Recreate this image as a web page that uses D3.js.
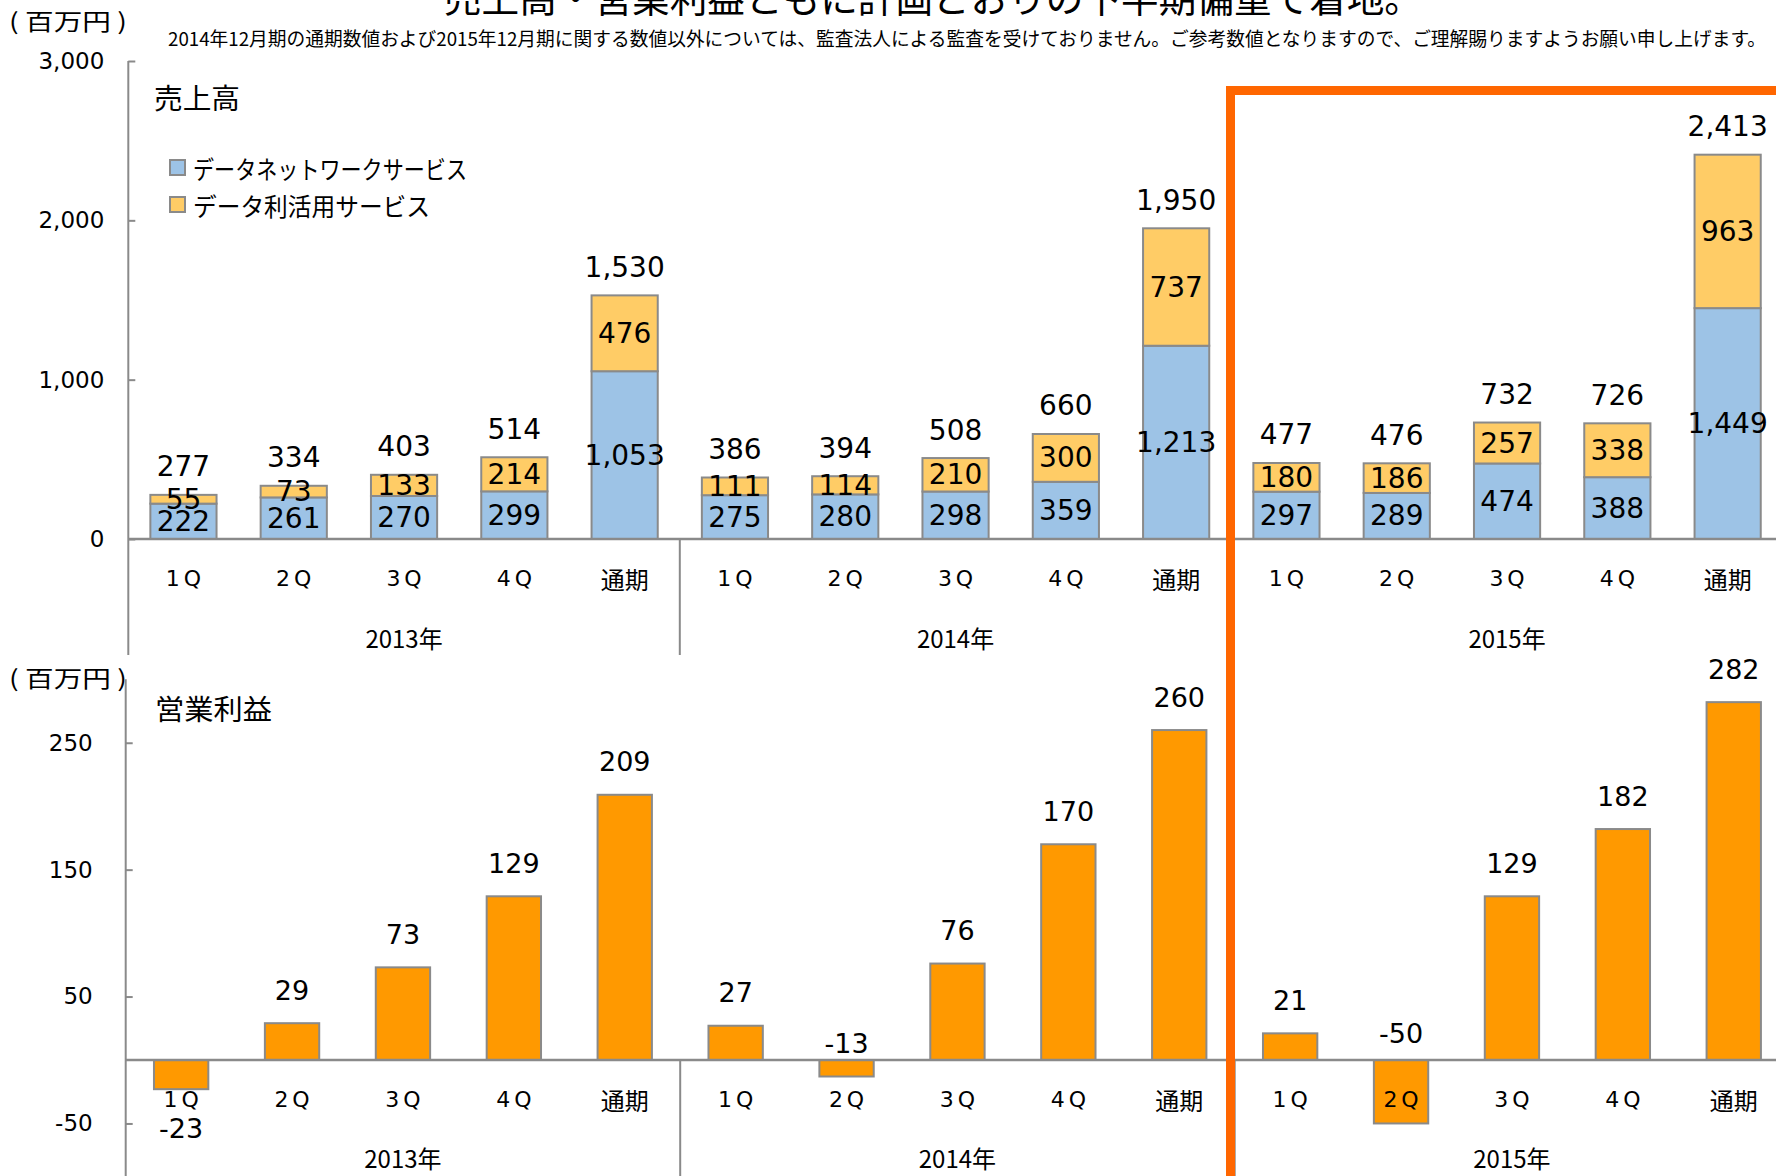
<!DOCTYPE html>
<html>
<head>
<meta charset="utf-8">
<script src="https://cdn.jsdelivr.net/npm/d3@7/dist/d3.min.js"></script>
<style>
  html, body { margin: 0; padding: 0; background: #ffffff; }
  svg { display: block; }
  .jp { font-family: "Noto Sans CJK JP", "Noto Sans", sans-serif; }
  .num { font-family: "DejaVu Sans", Verdana, sans-serif; }
</style>
</head>
<body>
<svg id="chart" width="1776" height="1176"></svg>
<script>
// ---- data ----
const years = ["2013年", "2014年", "2015年"];
const periods = ["1Q", "2Q", "3Q", "4Q", "通期"];
// 売上高 (百万円): データネットワークサービス / データ利活用サービス / 合計
const networkSales = [222, 261, 270, 299, 1053, 275, 280, 298, 359, 1213, 297, 289, 474, 388, 1449];
const utilizationSales = [55, 73, 133, 214, 476, 111, 114, 210, 300, 737, 180, 186, 257, 338, 963];
const totalSales = [277, 334, 403, 514, 1530, 386, 394, 508, 660, 1950, 477, 476, 732, 726, 2413];
// 営業利益 (百万円)
const operatingProfit = [-23, 29, 73, 129, 209, 27, -13, 76, 170, 260, 21, -50, 129, 182, 282];
const salesTicks = [0, 1000, 2000, 3000];
const profitTicks = [-50, 50, 150, 250];
const seriesNames = ["データネットワークサービス", "データ利活用サービス"];

const title = "売上高・営業利益ともに計画どおりの下半期偏重で着地。";
const note = "2014年12月期の通期数値および2015年12月期に関する数値以外については、監査法人による監査を受けておりません。ご参考数値となりますので、ご理解賜りますようお願い申し上げます。";

// ---- style ----
const C = {
  blue: "#9DC3E6",
  yellow: "#FFCC66",
  orange: "#FF9900",
  frame: "#FF6600",
  grey: "#8A8A8A",
  text: "#000000"
};

const keys = [];
years.forEach(y => periods.forEach(p => keys.push(y + "|" + p)));
const rows = keys.map((k, i) => ({
  key: k, year: k.split("|")[0], period: k.split("|")[1],
  net: networkSales[i], util: utilizationSales[i], total: totalSales[i],
  profit: operatingProfit[i]
}));

const svg = d3.select("#chart");

// headline (runs off the top edge) and disclaimer
svg.append("text").attr("class", "jp")
  .attr("x", 444).attr("y", 12)
  .attr("font-size", 38).attr("textLength", 978).attr("lengthAdjust", "spacingAndGlyphs")
  .text(title);
svg.append("text").attr("class", "jp")
  .attr("x", 168).attr("y", 37).attr("dominant-baseline", "central")
  .attr("font-size", 19).attr("textLength", 1598).attr("lengthAdjust", "spacingAndGlyphs")
  .text(note);

// ================= 売上高 (stacked) =================
const topX0 = 128.3, topStep = 110.3;
const xTop = d3.scaleBand().domain(keys)
  .range([topX0, topX0 + topStep * keys.length])
  .paddingInner(0.4).paddingOuter(0.2);
const yTop = d3.scaleLinear().domain([0, 3000]).range([539, 61]);
const topAxisBottom = 655;

const gTop = svg.append("g");

gTop.append("text").attr("class", "jp")
  .attr("x", 9).attr("y", 20).attr("dominant-baseline", "central")
  .attr("font-size", 23).attr("textLength", 118).attr("lengthAdjust", "spacingAndGlyphs")
  .text("( 百万円 )");

// y axis with inward ticks
const axTop = gTop.append("g").attr("transform", `translate(${topX0},0)`)
  .call(d3.axisLeft(yTop).tickValues(salesTicks).tickSizeInner(-7).tickSizeOuter(0)
    .tickPadding(24).tickFormat(d3.format(",")));
axTop.select(".domain").remove();
axTop.selectAll(".tick line").attr("stroke", C.grey).attr("stroke-width", 2);
axTop.selectAll(".tick text").attr("font-size", 23)
  .attr("fill", C.text).attr("font-family", "DejaVu Sans, Verdana, sans-serif");
gTop.append("line").attr("x1", topX0).attr("x2", topX0)
  .attr("y1", yTop(3000)).attr("y2", topAxisBottom)
  .attr("stroke", C.grey).attr("stroke-width", 2);

// stacked bars
const stack = d3.stack().keys(["net", "util"])(rows);
const fills = [C.blue, C.yellow];
stack.forEach((layer, li) => {
  gTop.append("g").selectAll("rect").data(layer).join("rect")
    .attr("x", d => xTop(d.data.key))
    .attr("width", xTop.bandwidth())
    .attr("y", d => yTop(d[1]))
    .attr("height", d => yTop(d[0]) - yTop(d[1]))
    .attr("fill", fills[li])
    .attr("stroke", C.grey).attr("stroke-width", 2);
});

// zero line
gTop.append("line").attr("x1", topX0).attr("x2", 1776)
  .attr("y1", yTop(0)).attr("y2", yTop(0))
  .attr("stroke", C.grey).attr("stroke-width", 2.5);

// segment labels centred in each segment
stack.forEach(layer => {
  gTop.append("g").selectAll("text").data(layer).join("text")
    .attr("class", "num")
    .attr("x", d => xTop(d.data.key) + xTop.bandwidth() / 2)
    .attr("y", d => (yTop(d[0]) + yTop(d[1])) / 2)
    .attr("text-anchor", "middle").attr("dominant-baseline", "central")
    .attr("font-size", 28).attr("fill", C.text)
    .text(d => d3.format(",")(d[1] - d[0]));
});
// totals above each stack
gTop.append("g").selectAll("text").data(stack[1]).join("text")
  .attr("class", "num")
  .attr("x", d => xTop(d.data.key) + xTop.bandwidth() / 2)
  .attr("y", d => yTop(d[1]) - 28)
  .attr("text-anchor", "middle").attr("dominant-baseline", "central")
  .attr("font-size", 28).attr("fill", C.text)
  .text(d => d3.format(",")(d.data.total));

// category axis: periods, year groups, separators
function categoryAxis(g, x, x0, step, yZero, yBottom, yPeriod, yYear) {
  g.append("g").selectAll("text").data(rows).join("text")
    .attr("x", d => x(d.key) + x.bandwidth() / 2 + (d.period === "通期" ? 0 : 2))
    .attr("y", yPeriod)
    .attr("text-anchor", "middle").attr("dominant-baseline", "central")
    .attr("font-size", d => d.period === "通期" ? 24 : 22)
    .attr("letter-spacing", d => d.period === "通期" ? 0 : 4)
    .attr("font-family", d => d.period === "通期" ? "Noto Sans CJK JP, sans-serif" : "DejaVu Sans, Verdana, sans-serif")
    .attr("fill", C.text)
    .text(d => d.period);
  g.append("g").selectAll("text").data(years).join("text")
    .attr("class", "jp")
    .attr("x", (d, i) => x0 + step * (i * periods.length + periods.length / 2))
    .attr("y", yYear)
    .attr("text-anchor", "middle").attr("dominant-baseline", "central")
    .attr("font-size", 24).attr("fill", C.text)
    .text(d => d);
  g.append("g").selectAll("line").data([1, 2]).join("line")
    .attr("x1", d => x0 + step * d * periods.length)
    .attr("x2", d => x0 + step * d * periods.length)
    .attr("y1", yZero).attr("y2", yBottom)
    .attr("stroke", C.grey).attr("stroke-width", 2);
}
categoryAxis(gTop, xTop, topX0, topStep, yTop(0), topAxisBottom, 578, 637);

// section title and legend
gTop.append("text").attr("class", "jp")
  .attr("x", 154).attr("y", 97).attr("dominant-baseline", "central")
  .attr("font-size", 28).attr("textLength", 86).attr("lengthAdjust", "spacingAndGlyphs")
  .text("売上高");
const legend = gTop.append("g").selectAll("g").data(seriesNames).join("g")
  .attr("transform", (d, i) => `translate(170,${160 + i * 37})`);
legend.append("rect").attr("width", 15).attr("height", 15)
  .attr("fill", (d, i) => fills[i]).attr("stroke", C.grey).attr("stroke-width", 2);
legend.append("text").attr("class", "jp")
  .attr("x", 23).attr("y", 8).attr("dominant-baseline", "central")
  .attr("font-size", 25)
  .attr("textLength", (d, i) => i === 0 ? 274 : 237).attr("lengthAdjust", "spacingAndGlyphs")
  .text(d => d);

// ================= 営業利益 =================
const botX0 = 125.7, botStep = 110.9;
const xBot = d3.scaleBand().domain(keys)
  .range([botX0, botX0 + botStep * keys.length])
  .paddingInner(0.51).paddingOuter(0.255);
const yBot = d3.scaleLinear().domain([-100, 300]).range([1060 + 126.9, 1060 - 3 * 126.9]);

const gBot = svg.append("g");

gBot.append("text").attr("class", "jp")
  .attr("x", 9).attr("y", 677).attr("dominant-baseline", "central")
  .attr("font-size", 23).attr("textLength", 118).attr("lengthAdjust", "spacingAndGlyphs")
  .text("( 百万円 )");

const axBot = gBot.append("g").attr("transform", `translate(${botX0},0)`)
  .call(d3.axisLeft(yBot).tickValues(profitTicks).tickSizeInner(-7).tickSizeOuter(0)
    .tickPadding(33).tickFormat(d => String(d)));
axBot.select(".domain").remove();
axBot.selectAll(".tick line").attr("stroke", C.grey).attr("stroke-width", 2);
axBot.selectAll(".tick text").attr("font-size", 23).attr("fill", C.text)
  .attr("font-family", "DejaVu Sans, Verdana, sans-serif");
gBot.append("line").attr("x1", botX0).attr("x2", botX0)
  .attr("y1", yBot(300)).attr("y2", 1176)
  .attr("stroke", C.grey).attr("stroke-width", 2);

gBot.append("g").selectAll("rect").data(rows).join("rect")
  .attr("x", d => xBot(d.key))
  .attr("width", xBot.bandwidth())
  .attr("y", d => yBot(Math.max(0, d.profit)))
  .attr("height", d => Math.abs(yBot(d.profit) - yBot(0)))
  .attr("fill", C.orange)
  .attr("stroke", C.grey).attr("stroke-width", 2);

gBot.append("line").attr("x1", botX0).attr("x2", 1776)
  .attr("y1", yBot(0)).attr("y2", yBot(0))
  .attr("stroke", C.grey).attr("stroke-width", 2.5);

// value labels: above positive bars; negative ones sit above the zero line,
// except the first, which hangs below its bar
const negLabelY = {
  "2013年|1Q": d => yBot(d.profit) + 39,
  "2014年|2Q": () => yBot(0) - 17,
  "2015年|2Q": () => yBot(0) - 27
};
gBot.append("g").selectAll("text").data(rows).join("text")
  .attr("class", "num")
  .attr("x", d => xBot(d.key) + xBot.bandwidth() / 2)
  .attr("y", d => d.profit >= 0 ? yBot(d.profit) - 33 : negLabelY[d.key](d))
  .attr("text-anchor", "middle").attr("dominant-baseline", "central")
  .attr("font-size", 27).attr("fill", C.text)
  .text(d => d.profit);

categoryAxis(gBot, xBot, botX0, botStep, yBot(0), 1176, 1099, 1157);

gBot.append("text").attr("class", "jp")
  .attr("x", 155).attr("y", 708).attr("dominant-baseline", "central")
  .attr("font-size", 28).attr("textLength", 117).attr("lengthAdjust", "spacingAndGlyphs")
  .text("営業利益");

// highlight frame around the 2015 results
svg.append("path")
  .attr("d", "M1230.5,1190 V90.5 H1790")
  .attr("fill", "none").attr("stroke", C.frame).attr("stroke-width", 9);
</script>
</body>
</html>
